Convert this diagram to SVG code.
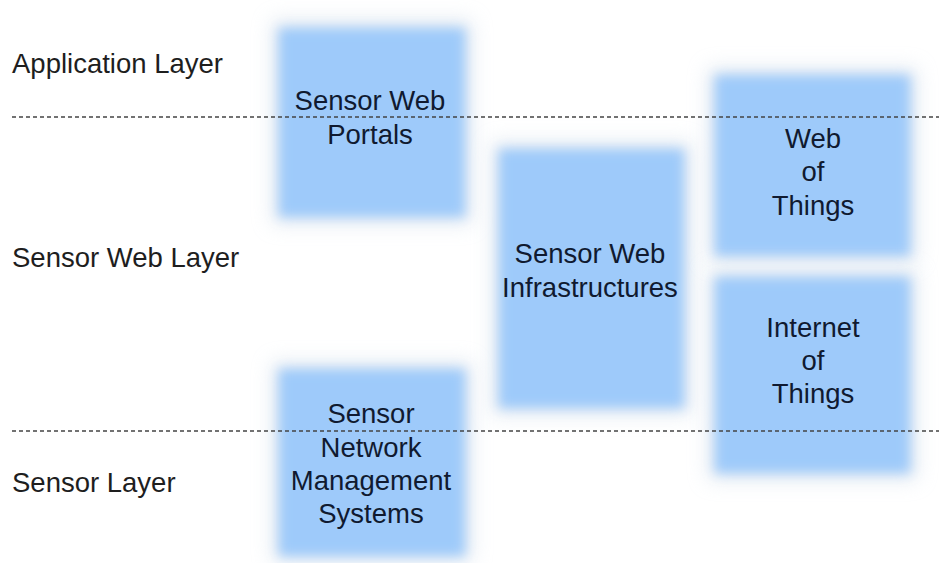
<svg xmlns="http://www.w3.org/2000/svg" width="939" height="563" viewBox="0 0 939 563">
<defs>
<filter id="soft" x="-20%" y="-20%" width="140%" height="140%"><feGaussianBlur stdDeviation="6"/></filter>
<filter id="halo" x="-30%" y="-30%" width="160%" height="160%"><feGaussianBlur stdDeviation="10"/></filter>
</defs>
<style>
.box{fill:#9ecafa;filter:url(#soft)}
.glow{fill:#c8d6e6;opacity:0.5;filter:url(#halo)}
.lbl{font-family:"Liberation Sans",Arial,sans-serif;font-size:27.5px;fill:#1e1e1e}
.txt{font-family:"Liberation Sans",Arial,sans-serif;font-size:27.5px;fill:#101a30;text-anchor:middle}
.dash{stroke:#444444;stroke-width:1.5;stroke-dasharray:4 3;fill:none}
</style>
<rect width="939" height="563" fill="#ffffff"/>
<g id="layer-labels">
<text class="lbl" x="12" y="73">Application Layer</text>
<text class="lbl" x="12" y="267">Sensor Web Layer</text>
<text class="lbl" x="12" y="492">Sensor Layer</text>
</g>
<g id="node-portals">
<rect class="glow" x="272" y="20" width="200" height="204"/>
<rect class="box" x="279" y="28" width="186" height="189"/>
<text class="txt" x="370" y="110">Sensor Web</text>
<text class="txt" x="370" y="144">Portals</text>
</g>
<g id="node-infrastructures">
<rect class="glow" x="492" y="142" width="199" height="273"/>
<rect class="box" x="499" y="149" width="185" height="259"/>
<text class="txt" x="590" y="263">Sensor Web</text>
<text class="txt" x="590" y="297">Infrastructures</text>
</g>
<g id="node-wot">
<rect class="glow" x="708" y="68" width="209" height="194"/>
<rect class="box" x="715" y="75" width="195" height="181"/>
<text class="txt" x="813" y="148">Web</text>
<text class="txt" x="813" y="181">of</text>
<text class="txt" x="813" y="215">Things</text>
</g>
<g id="node-iot">
<rect class="glow" x="708" y="270" width="209" height="210"/>
<rect class="box" x="715" y="277" width="195" height="196"/>
<text class="txt" x="813" y="337">Internet</text>
<text class="txt" x="813" y="370">of</text>
<text class="txt" x="813" y="403">Things</text>
</g>
<g id="node-snms">
<rect class="glow" x="272" y="362" width="200" height="200"/>
<rect class="box" x="279" y="369" width="186" height="187"/>
<text class="txt" x="371" y="423">Sensor</text>
<text class="txt" x="371" y="457">Network</text>
<text class="txt" x="371" y="490">Management</text>
<text class="txt" x="371" y="523">Systems</text>
</g>
<g id="connectors">
<line class="dash" x1="12" y1="117" x2="939" y2="117"/>
<line class="dash" x1="12" y1="431" x2="939" y2="431"/>
</g>
</svg>
